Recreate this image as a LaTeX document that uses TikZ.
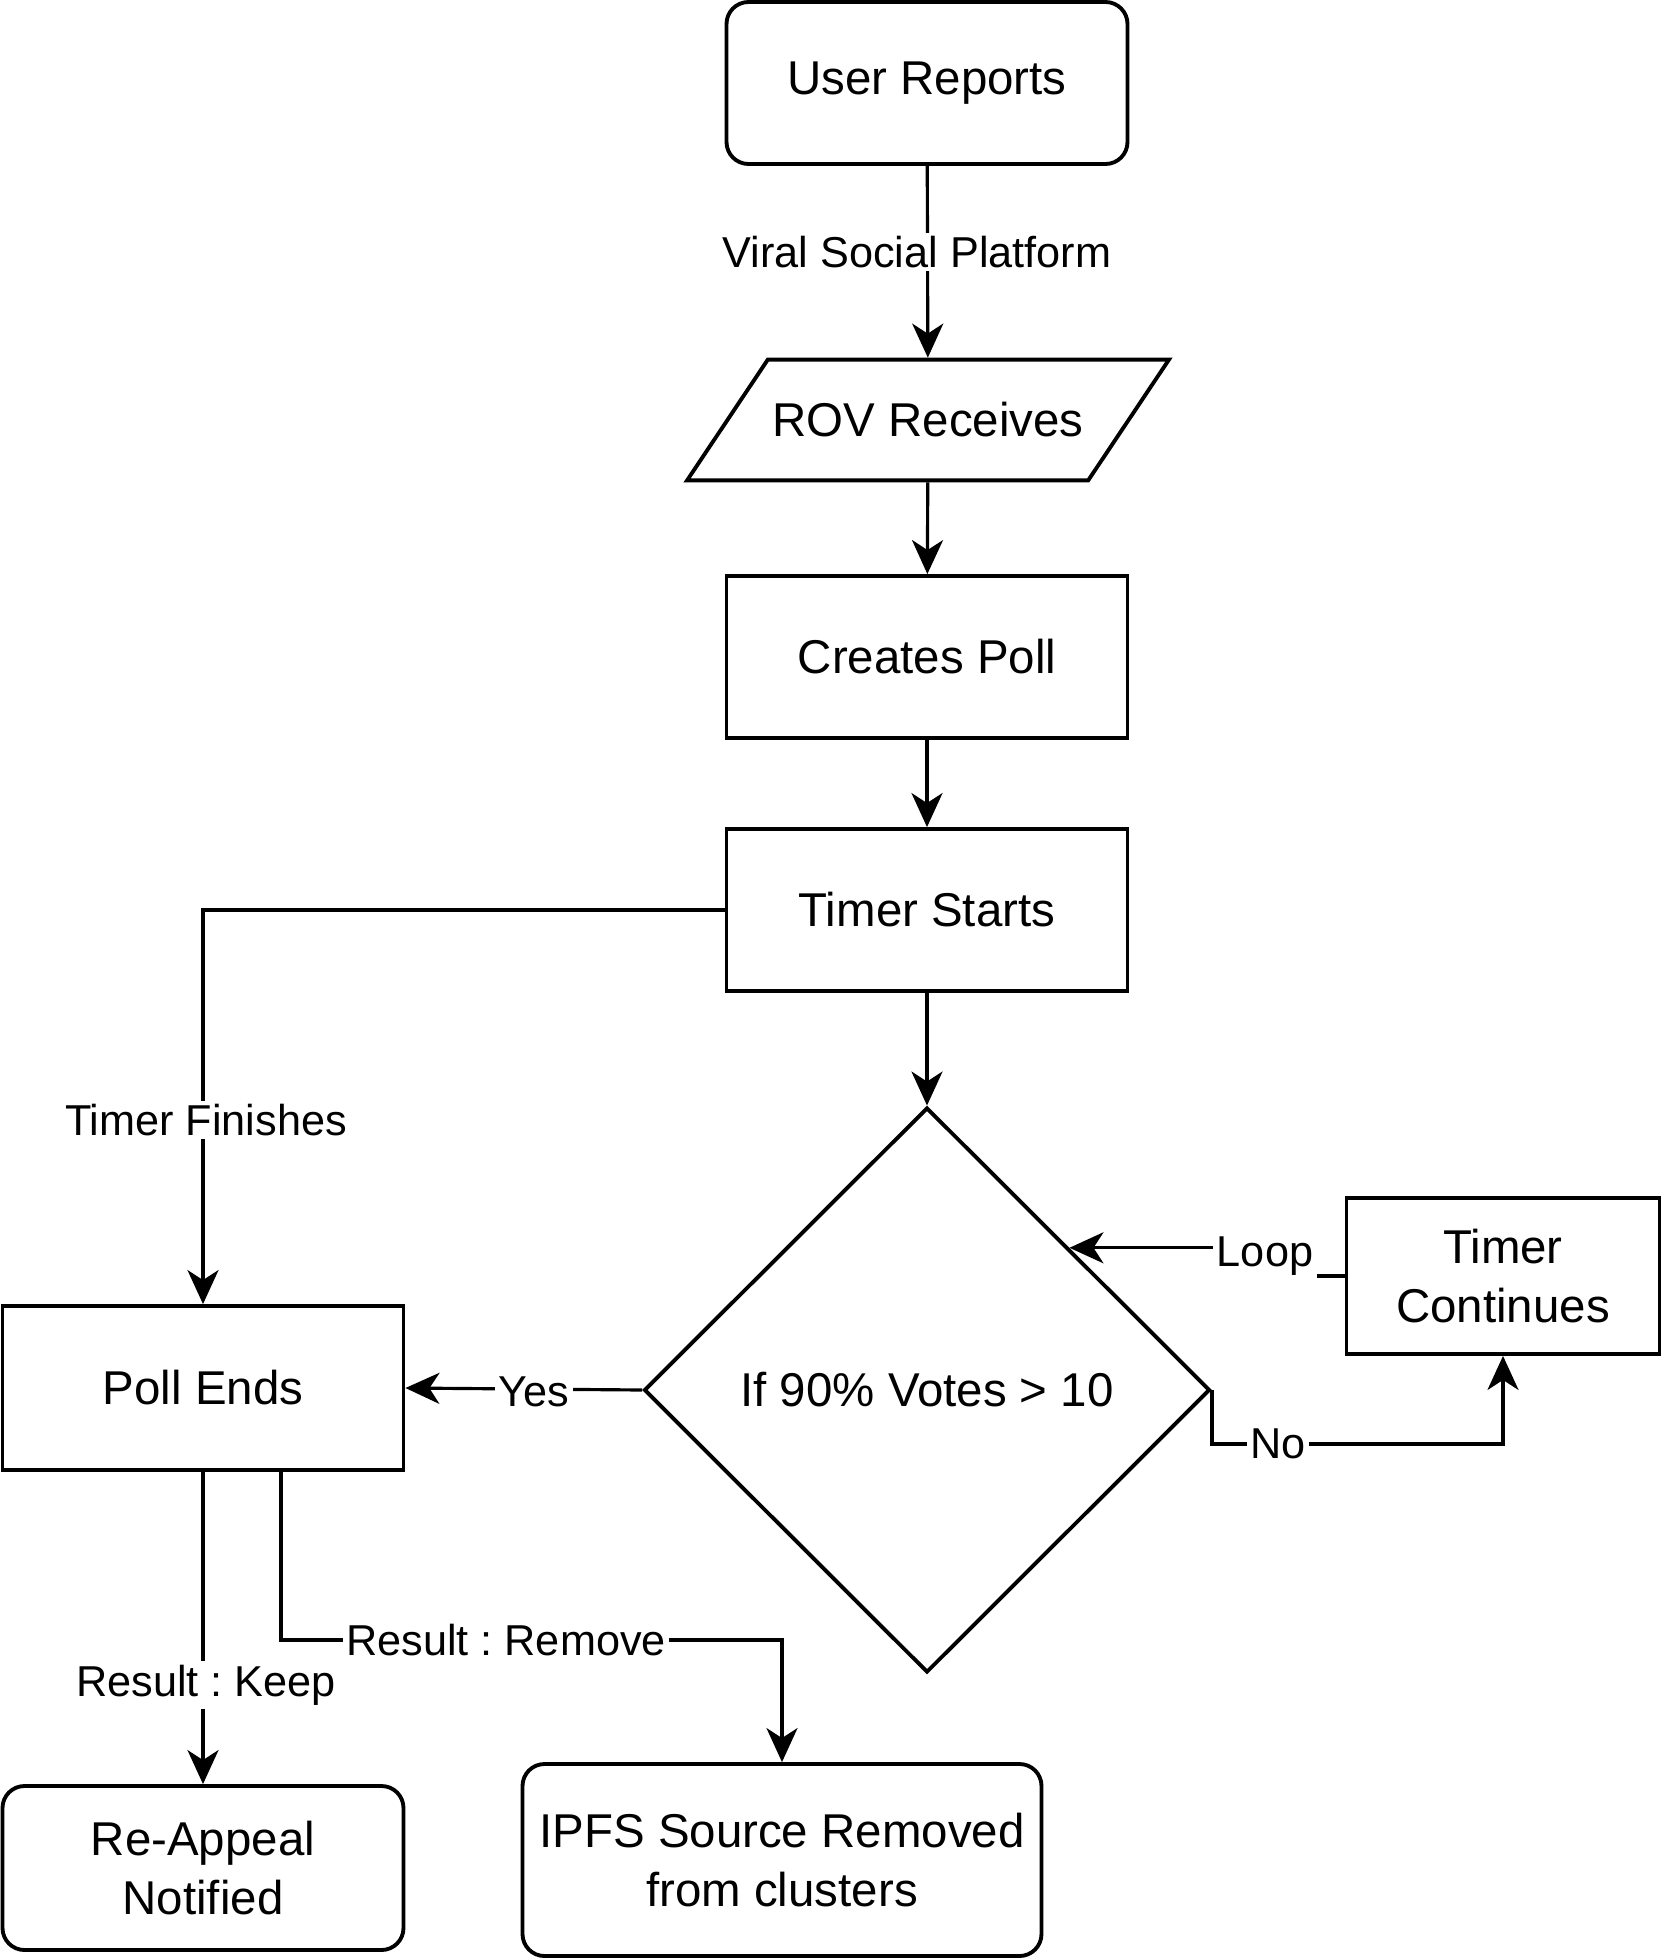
\documentclass[tikz,border=0pt]{standalone}
\usepackage{fontspec}
\setmainfont{Liberation Sans}
\frenchspacing
\usetikzlibrary{shapes.geometric,arrows.meta,calc}
\tikzset{
  box/.style={draw=black,line width=1.1pt,minimum width=4.01cm,minimum height=1.62cm,
    align=center,font=\fontsize{13.5}{17}\selectfont},
  rbox/.style={box,rounded corners=0.22cm},
  lbl/.style={fill=white,inner sep=1pt,font=\fontsize{12.3}{14.5}\selectfont},
  flow/.style={line width=0.9pt,-{Stealth[length=3.4mm,width=3.1mm,inset=1mm]}},
}
\begin{document}
\begin{tikzpicture}
\useasboundingbox (0,0) rectangle (16.64,-19.60);
%blocks
\node[rbox] (user) at (9.27,-0.83){User Reports};
\node[box,trapezium,trapezium left angle=57,trapezium right angle=123,trapezium stretches=true,
  minimum width=4.82cm,minimum height=1.2cm,inner xsep=0pt,inner ysep=0.43cm] (rov) at (9.28,-4.20){ROV Receives};
\node[box] (poll) at (9.27,-6.57){Creates Poll};
\node[box] (ts) at (9.27,-9.10){Timer Starts};
\node[box,diamond,minimum width=5.66cm,minimum height=5.65cm,inner sep=0pt] (dia) at (9.27,-13.90){If 90\% Votes > 10};
\node[box,minimum width=3.13cm,minimum height=1.56cm] (tc) at (15.03,-12.76){Timer\\Continues};
\node[box,minimum height=1.64cm] (pe) at (2.03,-13.88){Poll Ends};
\node[rbox,minimum height=1.64cm] (rn) at (2.03,-18.68){Re-Appeal\\Notified};
\node[rbox,minimum width=5.19cm,minimum height=1.92cm] (ipfs) at (7.82,-18.60){IPFS Source Removed\\from clusters};
%connectors
\coordinate (hit) at ($(dia.north)!0.5!(dia.east)$);
\coordinate (bend) at (13.12,-12.76);
\coordinate (rm) at (2.81,-16.40);
\draw[flow] (user) -- (rov);
\draw[flow] (rov) -- (poll);
\draw[flow] (poll) -- (ts);
\draw[flow] (ts) -- (dia);
\draw[flow] (ts.west) -| (pe.north);
\draw[flow] (dia.west) -- (pe.east);
\draw[flow] (dia.east) -- ++(0,-0.54) -| (tc.south);
\draw[flow] (tc.west) -- (bend) |- (hit);
\draw[flow] (pe.south) -- (rn.north);
\draw[flow] (pe.south -| rm) -- (rm) -| (ipfs.north);
%labels
\node[lbl] (lvsp) at (9.17,-2.52){Viral Social Platform};
\node[lbl] (lfin) at (2.06,-11.20){Timer Finishes};
\node[lbl] (lyes) at (5.34,-13.92){Yes};
\node[lbl] (lno) at (12.78,-14.44){No};
\node[lbl] (lloop) at (12.65,-12.56){Loop};
\node[lbl] (lkeep) at (2.06,-16.85){Result : Keep};
\node[lbl] (lrem) at (5.06,-16.40){Result : Remove};
\end{tikzpicture}
\end{document}
